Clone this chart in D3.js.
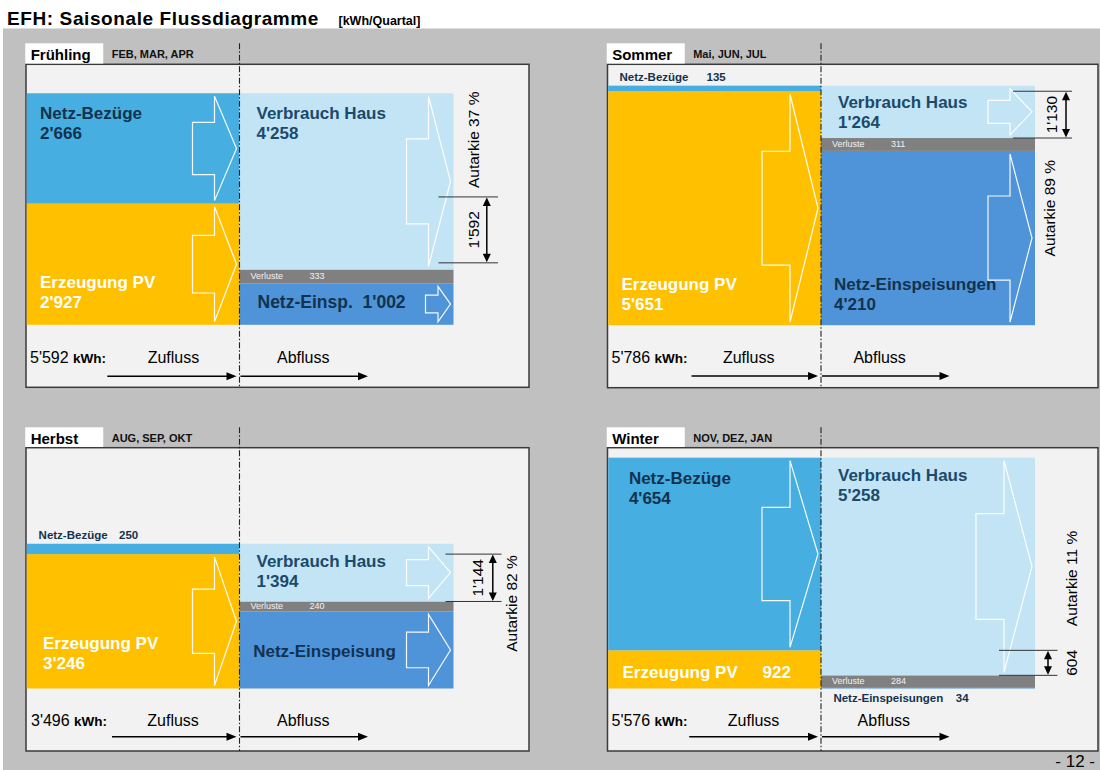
<!DOCTYPE html>
<html><head><meta charset="utf-8">
<script src="https://cdn.jsdelivr.net/npm/d3@7"></script>
<style>
body{margin:0;background:#fff;}
svg{display:block;font-family:"Liberation Sans",Arial,sans-serif;}
</style>
</head><body>
<svg id="chart" width="1100" height="770"></svg>
<script>
// ---------------- DATA ----------------
const seasons = ["Frühling", "Sommer", "Herbst", "Winter"];
const monthLabels = ["FEB, MAR, APR", "Mai, JUN, JUL", "AUG, SEP, OKT", "NOV, DEZ, JAN"];
const netzBezuege = [2666, 135, 250, 4654];
const erzeugungPV = [2927, 5651, 3246, 922];
const verbrauchHaus = [4258, 1264, 1394, 5258];
const verluste = [333, 311, 240, 284];
const netzEinspeisung = [1002, 4210, 1862, 34];
const eigenverbrauch = [1592, 1130, 1144, 604];
const autarkie = [37, 89, 82, 11];
const totals = [5592, 5786, 3496, 5576];
const einspLabels = ["Netz-Einsp.", "Netz-Einspeisungen", "Netz-Einspeisung", "Netz-Einspeisungen"];

// ---------------- LAYOUT (positions / styles) ----------------
const layout = [
  {x:26, y:64.3, w:503, h:323, tabTop:43.3, mid:239.5, nbMode:"big", nbX:14, nbOff:26,
   pvMode:"big", pvX:14, pvOff:[-37,-17], vbOff:26, einspMode:"inline", einspX:18,
   dim:{shift:6.7, l1:199, l2:258.5, ax:247.3, lx:234}, aut:{x:234, y:-185},
   flow:{tx:4, zx:121.7, ax:37.5, a1:81.3, y:-11, ty:-24}},
  {x:607.5, y:64.3, w:490.5, h:323.4, tabTop:43.3, mid:821, nbMode:"small", nbX:12, nbValX:99,
   pvMode:"big", pvX:14, pvOff:[-35,-15], vbOff:22, einspMode:"two", einspX:13,
   dim:{shift:0, l1:192, l2:251, ax:245, lx:230.7}, aut:{x:228.8, y:-117},
   flow:{tx:4, zx:115.4, ax:32.4, a1:84, y:-11.7, ty:-24.4}},
  {x:26, y:447.7, w:503, h:303.3, tabTop:427.3, mid:239.5, nbMode:"small", nbX:12.6, nbValX:93,
   pvMode:"big", pvX:17, pvOff:[-40,-20], vbOff:23, einspMode:"name", einspX:13.7,
   dim:{shift:0, l1:206, l2:262, ax:253.3, lx:237.5}, aut:{x:272, y:-85},
   flow:{tx:5, zx:121.3, ax:37.5, a1:86, y:-14.3, ty:-25}},
  {x:607.5, y:447.7, w:490.5, h:303.3, tabTop:427.3, mid:821, nbMode:"big", nbX:21.4, nbOff:26,
   pvMode:"inline", pvX:15, pvValX:155, vbOff:23, einspMode:"below", einspX:12.4, einspValX:134.8,
   dim:{shift:0, l1:178, l2:236.5, ax:227, lx:250}, aut:{x:250, y:-110},
   flow:{tx:4, zx:120.3, ax:36.6, a1:81.7, y:-14.3, ty:-25}}
];

const colors = {nb:"#46aee0", pv:"#ffc000", vb:"#c2e4f5", vl:"#808080", ne:"#4f94d8"};
const dark = "#12324f", darkVb = "#1b4a6c";
const barW = 214;

const fmt = d3.formatLocale({decimal:".", thousands:"'", grouping:[3], currency:["",""]}).format(",d");
const hScale = d3.scaleLinear().domain([0, 6000]).range([0, 248.4]);

const svg = d3.select("#chart");
svg.append("rect").attr("width",1100).attr("height",770).attr("fill","#fff");
svg.append("rect").attr("x",3).attr("y",28.5).attr("width",1097).attr("height",741.5).attr("fill","#c0c0c0");

svg.append("text").attr("x",7).attr("y",25).attr("font-size",19).attr("font-weight","bold")
  .attr("letter-spacing",0.6).attr("fill","#000").text("EFH: Saisonale Flussdiagramme");
svg.append("text").attr("x",338.5).attr("y",25).attr("font-size",12.5).attr("font-weight","bold")
  .attr("fill","#000").text("[kWh/Quartal]");
svg.append("text").attr("x",1095).attr("y",767).attr("text-anchor","end").attr("font-size",17)
  .attr("fill","#000").text("- 12 -");

function blockArrow(tipX, y0, y1, w){
  const top = y0 + 3, bot = y1 - 3, cy = (top + bot) / 2, sh = (bot - top) / 4;
  const hx = tipX - w / 2, tx = tipX - w;
  return `M${tx},${cy-sh}L${hx},${cy-sh}L${hx},${top}L${tipX},${cy}L${hx},${bot}L${hx},${cy+sh}L${tx},${cy+sh}Z`;
}
function arrowWidth(h){ return h < 40 ? 0 : h < 45 ? 25 : h < 190 ? 44 : 56; }

seasons.forEach((season, i) => {
  const L = layout[i];
  const g = svg.append("g");
  const bottom = L.y + L.h - 62.5;
  const left = L.x + 0.75, mid = L.mid, right = L.mid + barW;

  // panel box and tab
  g.append("rect").attr("x",L.x).attr("y",L.y).attr("width",L.w).attr("height",L.h)
    .attr("fill","#f2f2f2").attr("stroke","#3a3a3a").attr("stroke-width",1.5);
  g.append("rect").attr("x",L.x-0.75).attr("y",L.tabTop).attr("width",78).attr("height",L.y-L.tabTop-0.75)
    .attr("fill","#fff");
  g.append("text").attr("x",L.x+4.7).attr("y",L.tabTop+16.5).attr("font-size",15).attr("font-weight","bold")
    .attr("fill","#000").text(season);
  g.append("text").attr("x",L.x+85.7).attr("y",L.tabTop+14.8).attr("font-size",11).attr("font-weight","bold")
    .attr("fill","#111").text(monthLabels[i]);

  // stacks
  const leftStack = [
    {key:"pv", v:erzeugungPV[i], color:colors.pv, x0:left, x1:mid},
    {key:"nb", v:netzBezuege[i], color:colors.nb, x0:left, x1:mid}
  ];
  const rightStack = [
    {key:"ne", v:netzEinspeisung[i], color:colors.ne, x0:mid, x1:right},
    {key:"vl", v:verluste[i], color:colors.vl, x0:mid, x1:right},
    {key:"vb", v:verbrauchHaus[i], color:colors.vb, x0:mid, x1:right}
  ];
  [leftStack, rightStack].forEach(st => {
    let yc = bottom;
    st.forEach(d => { d.y1 = yc; d.y0 = yc - hScale(d.v); yc = d.y0; });
  });
  const all = leftStack.concat(rightStack);
  const by = Object.fromEntries(all.map(d => [d.key, d]));

  g.selectAll("rect.bar").data(all).join("rect").attr("class","bar")
    .attr("x", d => d.x0).attr("y", d => d.y0)
    .attr("width", d => d.x1 - d.x0).attr("height", d => d.y1 - d.y0)
    .attr("fill", d => d.color);

  // white outline arrows
  const arrowData = all.filter(d => d.key !== "vl" && arrowWidth(d.y1 - d.y0) > 0);
  g.selectAll("path.flowarrow").data(arrowData).join("path").attr("class","flowarrow")
    .attr("d", d => blockArrow(d.x1 - 3, d.y0, d.y1, arrowWidth(d.y1 - d.y0)))
    .attr("fill","none").attr("stroke","#fff").attr("stroke-width",1.2).attr("stroke-opacity",0.95);

  // dashed divider
  g.append("line").attr("x1",mid).attr("x2",mid).attr("y1",L.tabTop).attr("y2",L.y+L.h)
    .attr("stroke","#222").attr("stroke-width",1.1).attr("stroke-dasharray","6,2,1.5,2");

  // --- labels ---
  const big = (sel) => sel.attr("font-size",17).attr("font-weight","bold");
  const nb = by.nb, pv = by.pv, vb = by.vb, vl = by.vl, ne = by.ne;
  if (L.nbMode === "big") {
    big(g.append("text")).attr("x",L.x+L.nbX).attr("y",nb.y0+L.nbOff).attr("fill",dark).text("Netz-Bezüge");
    big(g.append("text")).attr("x",L.x+L.nbX).attr("y",nb.y0+L.nbOff+20).attr("fill",dark).text(fmt(netzBezuege[i]));
  } else {
    g.append("text").attr("x",L.x+L.nbX).attr("y",nb.y0-5).attr("font-size",11.5).attr("font-weight","bold")
      .attr("fill",dark).text("Netz-Bezüge");
    g.append("text").attr("x",L.x+L.nbValX).attr("y",nb.y0-5).attr("font-size",11.5).attr("font-weight","bold")
      .attr("fill",dark).text(fmt(netzBezuege[i]));
  }
  if (L.pvMode === "big") {
    big(g.append("text")).attr("x",L.x+L.pvX).attr("y",pv.y1+L.pvOff[0]).attr("fill","#fff").text("Erzeugung PV");
    big(g.append("text")).attr("x",L.x+L.pvX).attr("y",pv.y1+L.pvOff[1]).attr("fill","#fff").text(fmt(erzeugungPV[i]));
  } else {
    const cy = (pv.y0 + pv.y1) / 2 + 9;
    big(g.append("text")).attr("x",L.x+L.pvX).attr("y",cy).attr("fill","#fff").text("Erzeugung PV");
    big(g.append("text")).attr("x",L.x+L.pvValX).attr("y",cy).attr("fill","#fff").text(fmt(erzeugungPV[i]));
  }
  big(g.append("text")).attr("x",mid+17).attr("y",vb.y0+L.vbOff).attr("fill",darkVb).text("Verbrauch Haus");
  big(g.append("text")).attr("x",mid+17).attr("y",vb.y0+L.vbOff+20).attr("fill",darkVb).text(fmt(verbrauchHaus[i]));

  const vlc = (vl.y0 + vl.y1) / 2 + 3;
  g.append("text").attr("x",mid+11).attr("y",vlc).attr("font-size",9).attr("fill","#f2f2f2").text("Verluste");
  g.append("text").attr("x",mid+70).attr("y",vlc).attr("font-size",9).attr("fill","#f2f2f2").text(fmt(verluste[i]));

  if (L.einspMode === "inline") {
    big(g.append("text")).attr("x",mid+L.einspX).attr("y",(ne.y0+ne.y1)/2+4).attr("font-size",17.5)
      .attr("fill",dark).text(einspLabels[i] + "\u00a0\u00a0" + fmt(netzEinspeisung[i]));
  } else if (L.einspMode === "two") {
    big(g.append("text")).attr("x",mid+L.einspX).attr("y",ne.y1-35).attr("fill",dark).text(einspLabels[i]);
    big(g.append("text")).attr("x",mid+L.einspX).attr("y",ne.y1-15).attr("fill",dark).text(fmt(netzEinspeisung[i]));
  } else if (L.einspMode === "name") {
    big(g.append("text")).attr("x",mid+L.einspX).attr("y",(ne.y0+ne.y1)/2+7).attr("fill",dark).text(einspLabels[i]);
  } else {
    g.append("text").attr("x",mid+L.einspX).attr("y",ne.y1+13.4).attr("font-size",11.5).attr("font-weight","bold")
      .attr("fill",dark).text(einspLabels[i]);
    g.append("text").attr("x",mid+L.einspValX).attr("y",ne.y1+13.4).attr("font-size",11.5).attr("font-weight","bold")
      .attr("fill",dark).text(fmt(netzEinspeisung[i]));
  }

  // --- dimension (Eigenverbrauch) ---
  const dB = vb.y1 - L.dim.shift, dT = dB - hScale(eigenverbrauch[i]);
  [dT, dB].forEach(yy => g.append("line").attr("x1",mid+L.dim.l1).attr("x2",mid+L.dim.l2)
    .attr("y1",yy).attr("y2",yy).attr("stroke","#333").attr("stroke-width",1));
  const ax = mid + L.dim.ax;
  g.append("line").attr("x1",ax).attr("x2",ax).attr("y1",dT+6).attr("y2",dB-6).attr("stroke","#000").attr("stroke-width",1.5);
  g.append("path").attr("d",`M${ax},${dT+0.5}L${ax-4},${dT+9}L${ax+4},${dT+9}Z`).attr("fill","#000");
  g.append("path").attr("d",`M${ax},${dB-0.5}L${ax-4},${dB-9}L${ax+4},${dB-9}Z`).attr("fill","#000");
  g.append("text").attr("transform",`translate(${mid+L.dim.lx},${(dT+dB)/2}) rotate(-90)`)
    .attr("text-anchor","middle").attr("dominant-baseline","central").attr("font-size",15.5)
    .attr("fill","#000").text(fmt(eigenverbrauch[i]));
  g.append("text").attr("transform",`translate(${mid+L.aut.x},${bottom+L.aut.y}) rotate(-90)`)
    .attr("text-anchor","middle").attr("dominant-baseline","central").attr("font-size",15.5)
    .attr("fill","#000").text(`Autarkie ${autarkie[i]} %`);

  // --- bottom: total and flow arrows ---
  const boxB = L.y + L.h;
  const tt = g.append("text").attr("x",L.x+L.flow.tx).attr("y",boxB+L.flow.ty).attr("fill","#000");
  tt.append("tspan").attr("font-size",16).text(fmt(totals[i]) + " ");
  tt.append("tspan").attr("font-size",13.5).attr("font-weight","bold").text("kWh:");
  g.append("text").attr("x",L.x+L.flow.zx).attr("y",boxB+L.flow.ty).attr("font-size",16).attr("fill","#000").text("Zufluss");
  g.append("text").attr("x",mid+L.flow.ax).attr("y",boxB+L.flow.ty).attr("font-size",16).attr("fill","#000").text("Abfluss");
  const fy = boxB + L.flow.y;
  [[L.x+L.flow.a1, mid-3], [mid+1, mid+128.5]].forEach(([a, b]) => {
    g.append("line").attr("x1",a).attr("x2",b-8).attr("y1",fy).attr("y2",fy).attr("stroke","#000").attr("stroke-width",1.5);
    g.append("path").attr("d",`M${b},${fy}L${b-10},${fy-4}L${b-10},${fy+4}Z`).attr("fill","#000");
  });
});
</script>
</body></html>
